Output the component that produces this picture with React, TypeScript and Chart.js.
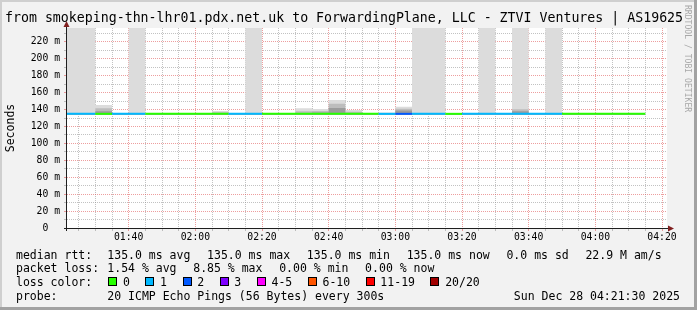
import { useEffect, useRef } from "react";
import { Chart, registerables } from "chart.js";

Chart.register(...registerables);

const W = 697;
const H = 310;
const MONO = '"DejaVu Sans Mono"';

const titleText = "from smokeping-thn-lhr01.pdx.net.uk to ForwardingPlane, LLC - ZTVI Ventures | AS19625";
const yAxisTitle = "Seconds";
const watermarkText = "RRDTOOL / TOBI OETIKER";

const viewStart = "01:21:30";
const viewEnd = "04:21:30";

// 5-minute step starts
const stepStarts = [
  "01:20", "01:25", "01:30", "01:35", "01:40", "01:45", "01:50", "01:55",
  "02:00", "02:05", "02:10", "02:15", "02:20", "02:25", "02:30", "02:35",
  "02:40", "02:45", "02:50", "02:55", "03:00", "03:05", "03:10", "03:15",
  "03:20", "03:25", "03:30", "03:35", "03:40", "03:45", "03:50", "03:55",
  "04:00", "04:05", "04:10",
];
const stepEnd = "04:15";

// lost pings (of 20) per step
const lossCount = [
  1, 1, 0, 1, 1, 0, 0, 0, 0, 0, 1, 1, 0, 0, 0, 0, 0, 0, 0, 1,
  2, 1, 1, 0, 1, 1, 1, 1, 1, 1, 0, 0, 0, 0, 0,
];

// median rtt in ms
const medianRtt = [
  135, 135, 135, 135, 135, 135, 135, 135, 135, 135, 135, 135, 135, 135, 135, 135, 135, 135, 135, 135,
  135, 135, 135, 135, 135, 135, 135, 135, 135, 135, 135, 135, 135, 135, 135,
];

// smoke (ping spread) layers, ms
const smokeHigh = [
  240, 240, 145.5, 135, 240, 135, 135, 135, 135, 138.5, 135, 240, 135, 135, 141.5, 140.7, 151.5, 139.5, 135, 136.5,
  143.4, 240, 240, 135, 135, 240, 135, 240, 135, 240, 135, 135, 135, 135, 135,
];
const smokeMid = [
  135, 135, 141.5, 135, 135, 135, 135, 135, 135, 137, 135, 135, 135, 135, 138, 138.5, 147, 137.5, 135, 135,
  141, 135, 135, 135, 135, 135, 135, 140.5, 135, 135, 135, 135, 135, 135, 135,
];
const smokeLow = [
  135, 135, 138, 135, 135, 135, 135, 135, 135, 135, 135, 135, 135, 135, 135, 136.5, 142, 135, 135, 135,
  139, 135, 135, 135, 135, 135, 135, 138, 135, 135, 135, 135, 135, 135, 135,
];
const smokeBase = 134;

const yMax = 236.5;
const xTickLabels = ["01:40", "02:00", "02:20", "02:40", "03:00", "03:20", "03:40", "04:00", "04:20"];
const yTickValues = [0, 20, 40, 60, 80, 100, 120, 140, 160, 180, 200, 220];
const yTickLabels = ["0  ", "20 m", "40 m", "60 m", "80 m", "100 m", "120 m", "140 m", "160 m", "180 m", "200 m", "220 m"];

const lossLegendLabels = ["0", "1", "2", "3", "4-5", "6-10", "11-19", "20/20"];
const lossLegendMax = [0, 1, 2, 3, 5, 10, 19, 20];
const lossLegendColors = ["#26ff00", "#00b8ff", "#0059ff", "#7e00ff", "#ff00ff", "#ff5500", "#ff0000", "#a10000"];

const rowLabels = ["median rtt:", "packet loss:", "loss color:", "probe:"];
const rttStats = ["135.0 ms avg", "135.0 ms max", "135.0 ms min", "135.0 ms now", "0.0 ms sd", "22.9 M am/s"];
const lossStats = ["1.54 % avg", "8.85 % max", "0.00 % min", "0.00 % now"];
const probeText = "20 ICMP Echo Pings (56 Bytes) every 300s";
const dateText = "Sun Dec 28 04:21:30 2025";

function toMin(s: string): number {
  const p = s.split(":").map(Number);
  return p[0] * 60 + p[1] + (p[2] || 0) / 60;
}
function lossColor(n: number): string {
  for (let i = 0; i < lossLegendMax.length; i++) if (n <= lossLegendMax[i]) return lossLegendColors[i];
  return lossLegendColors[lossLegendColors.length - 1];
}
function stepped(vals: number[]) {
  const pts = stepStarts.map((t, i) => ({ x: toMin(t), y: vals[i] }));
  pts.push({ x: toMin(stepEnd), y: vals[vals.length - 1] });
  return pts;
}

const GRID_MINOR = "rgba(143,143,143,0.55)";
const GRID_MAJOR = "rgba(222,79,79,0.55)";

const rrdPlugin = {
  id: "rrd",
  beforeDraw(chart: any) {
    const { ctx, chartArea: a } = chart;
    ctx.save();
    ctx.fillStyle = "#f2f2f2";
    ctx.fillRect(0, 0, W, H);
    ctx.fillStyle = "#cfcfcf";
    ctx.fillRect(0, 0, W, 2);
    ctx.fillRect(0, 0, 2, H);
    ctx.fillStyle = "#a2a2a2";
    ctx.fillRect(W - 3, 0, 3, H);
    ctx.fillRect(0, H - 3, W, 3);
    ctx.fillStyle = "#ffffff";
    ctx.fillRect(a.left, a.top, a.right - a.left, a.bottom - a.top);
    ctx.restore();
  },
  afterDraw(chart: any) {
    const { ctx, chartArea: a } = chart;
    ctx.save();
    // axes
    ctx.strokeStyle = "#1f1f1f";
    ctx.lineWidth = 1;
    ctx.beginPath();
    ctx.moveTo(a.left - 0.5, a.bottom + 3);
    ctx.lineTo(a.left - 0.5, a.top - 2);
    ctx.moveTo(a.left - 3, a.bottom + 0.5);
    ctx.lineTo(a.right + 2, a.bottom + 0.5);
    ctx.stroke();
    // arrows
    ctx.fillStyle = "#801f1f";
    ctx.beginPath();
    ctx.moveTo(a.left - 0.5, a.top - 7);
    ctx.lineTo(a.left - 3.5, a.top - 1);
    ctx.lineTo(a.left + 2.5, a.top - 1);
    ctx.closePath();
    ctx.fill();
    ctx.beginPath();
    ctx.moveTo(a.right + 7, a.bottom + 0.5);
    ctx.lineTo(a.right + 1, a.bottom - 2.5);
    ctx.lineTo(a.right + 1, a.bottom + 3.5);
    ctx.closePath();
    ctx.fill();

    // title, fitted to the reference span (x 5 .. 683)
    ctx.fillStyle = "#000";
    ctx.textAlign = "left";
    ctx.textBaseline = "alphabetic";
    ctx.font = `13px ${MONO}`;
    const tw = ctx.measureText(titleText).width;
    const tsize = 13 * (678 / tw);
    ctx.font = `${tsize.toFixed(2)}px ${MONO}`;
    ctx.fillText(titleText, 5, 22);

    // y axis title
    ctx.font = `11.5px ${MONO}`;
    ctx.save();
    ctx.translate(11, (a.top + a.bottom) / 2);
    ctx.rotate(-Math.PI / 2);
    ctx.textAlign = "center";
    ctx.textBaseline = "middle";
    ctx.fillText(yAxisTitle, 0, 0);
    ctx.restore();

    // watermark
    ctx.save();
    ctx.font = `8.1px ${MONO}`;
    ctx.fillStyle = "#a8a8a8";
    ctx.translate(687.5, 5);
    ctx.rotate(Math.PI / 2);
    ctx.textAlign = "left";
    ctx.textBaseline = "middle";
    ctx.fillText(watermarkText, 0, 0);
    ctx.restore();

    // legend rows
    ctx.font = `11.5px ${MONO}`;
    ctx.fillStyle = "#000";
    ctx.textAlign = "left";
    ctx.textBaseline = "alphabetic";
    const rows = [258.5, 272.2, 285.9, 299.6];
    const gap = 16.7;
    const x0 = 16;
    const xv = 107.3;
    rowLabels.forEach((t, i) => ctx.fillText(t, x0, rows[i]));
    const pieces = (arr: string[], y: number) => {
      let x = xv;
      for (const t of arr) {
        ctx.fillText(t, x, y);
        x += ctx.measureText(t).width + gap;
      }
    };
    pieces(rttStats, rows[0]);
    pieces(lossStats, rows[1]);
    ctx.fillText(probeText, xv, rows[3]);
    ctx.textAlign = "right";
    ctx.fillText(dateText, 680, rows[3]);
    ctx.textAlign = "left";
    // loss color boxes
    let bx = 108.3;
    lossLegendLabels.forEach((lab, i) => {
      ctx.fillStyle = "#000";
      ctx.fillRect(Math.round(bx), 277, 9, 9);
      ctx.fillStyle = lossLegendColors[i];
      ctx.fillRect(Math.round(bx) + 1, 278, 7, 7);
      ctx.fillStyle = "#000";
      const tx = bx + 14.7;
      ctx.fillText(lab, tx, rows[2]);
      bx = tx + ctx.measureText(lab).width + 15.5;
    });
    ctx.restore();
  },
};

export default function App() {
  const ref = useRef<HTMLCanvasElement>(null);
  useEffect(() => {
    const canvas = ref.current;
    if (!canvas) return;
    const xMajor = xTickLabels.map(toMin);
    const isMajorX = (v: number) => xMajor.some((m) => Math.abs(m - v) < 0.01);
    const chart = new Chart(canvas, {
      type: "line",
      data: {
        datasets: [
          {
            label: "median rtt",
            data: stepped(medianRtt),
            stepped: "before",
            borderWidth: 2,
            borderCapStyle: "butt",
            pointRadius: 0,
            fill: false,
            order: 0,
            segment: {
              borderColor: (c: any) => lossColor(lossCount[c.p0DataIndex]),
            },
          } as any,
          {
            label: "smoke low",
            data: stepped(smokeLow),
            stepped: "before",
            borderWidth: 0,
            pointRadius: 0,
            fill: { value: smokeBase },
            backgroundColor: "#9c9c9c",
            order: 1,
          } as any,
          {
            label: "smoke mid",
            data: stepped(smokeMid),
            stepped: "before",
            borderWidth: 0,
            pointRadius: 0,
            fill: { value: smokeBase },
            backgroundColor: "#bdbdbd",
            order: 2,
          } as any,
          {
            label: "smoke high",
            data: stepped(smokeHigh),
            stepped: "before",
            borderWidth: 0,
            pointRadius: 0,
            fill: { value: smokeBase },
            backgroundColor: "#dcdcdc",
            order: 3,
          } as any,
        ],
      },
      options: {
        animation: false,
        responsive: false,
        devicePixelRatio: 1,
        events: [],
        layout: { padding: { top: 28, right: 30, left: 0, bottom: 0 } },
        plugins: { legend: { display: false }, tooltip: { enabled: false }, title: { display: false } },
        scales: {
          x: {
            type: "linear",
            min: toMin(viewStart),
            max: toMin(viewEnd),
            z: 1,
            afterBuildTicks: (s: any) => {
              const t: any[] = [];
              for (let v = toMin("01:25"); v <= toMin(viewEnd); v += 5) t.push({ value: v });
              s.ticks = t;
            },
            afterFit: (s: any) => {
              s.height = H - 228;
            },
            ticks: {
              autoSkip: false,
              maxRotation: 0,
              minRotation: 0,
              padding: 1,
              color: "#000",
              font: { family: "DejaVu Sans Mono", size: 9.75 },
              callback: (v: any) => {
                const i = xMajor.findIndex((m) => Math.abs(m - v) < 0.01);
                return i >= 0 ? xTickLabels[i] : "";
              },
            },
            grid: {
              color: (c: any) => (isMajorX(c.tick.value) ? GRID_MAJOR : GRID_MINOR),
              tickColor: (c: any) => (isMajorX(c.tick.value) ? GRID_MAJOR : GRID_MINOR),
              lineWidth: 1,
              tickLength: 3,
            },
            border: { display: false, dash: [1, 1] },
          },
          y: {
            type: "linear",
            min: 0,
            max: yMax,
            z: 1,
            afterBuildTicks: (s: any) => {
              const t: any[] = [];
              for (let v = 0; v <= yMax; v += 10) t.push({ value: v });
              s.ticks = t;
            },
            afterFit: (s: any) => {
              s.width = 67;
            },
            ticks: {
              autoSkip: false,
              padding: 4,
              color: "#000",
              font: { family: "DejaVu Sans Mono", size: 9.75 },
              callback: (v: any) => {
                const i = yTickValues.indexOf(v);
                return i >= 0 ? yTickLabels[i] : "";
              },
            },
            grid: {
              color: (c: any) => (c.tick.value % 20 === 0 ? GRID_MAJOR : GRID_MINOR),
              tickColor: (c: any) => (c.tick.value % 20 === 0 ? GRID_MAJOR : GRID_MINOR),
              lineWidth: 1,
              tickLength: 3,
            },
            border: { display: false, dash: [1, 1] },
          },
        },
      },
      plugins: [rrdPlugin],
    } as any);
    return () => chart.destroy();
  }, []);
  return (
    <div style={{ position: "absolute", left: 0, top: 0, width: W, height: H }}>
      <canvas ref={ref} width={W} height={H} style={{ width: W, height: H, display: "block" }} />
    </div>
  );
}
